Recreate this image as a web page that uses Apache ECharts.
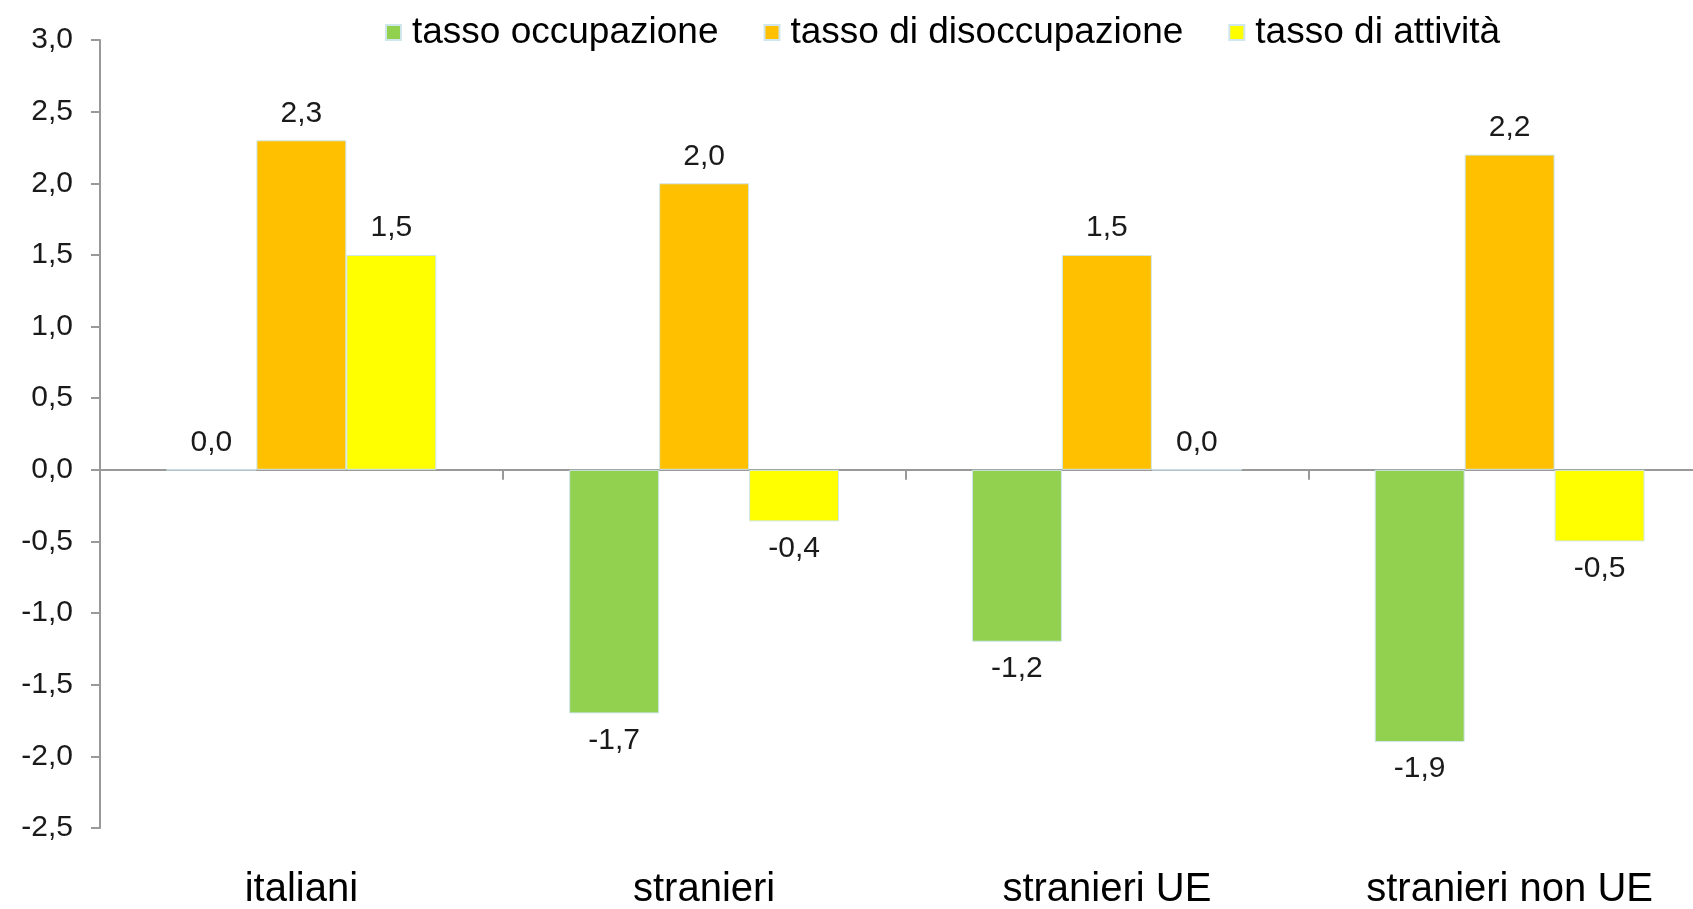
<!DOCTYPE html>
<html>
<head>
<meta charset="utf-8">
<script src="https://cdn.jsdelivr.net/npm/echarts@6/dist/echarts.min.js"></script>
<style>
html,body{margin:0;padding:0;background:#fff;}
#chart{width:1693px;height:909px;}
</style>
</head>
<body>
<div id="chart"></div>
<script>
const categories = ['italiani', 'stranieri', 'stranieri UE', 'stranieri non UE'];
const seriesNames = ['tasso occupazione', 'tasso di disoccupazione', 'tasso di attività'];
const occupazione = [0.0, -1.7, -1.2, -1.9];
const disoccupazione = [2.3, 2.0, 1.5, 2.2];
const attivita = [1.5, -0.36, 0.0, -0.5];
const yTicks = { min: -2.5, max: 3.0, interval: 0.5 };

const colors = ['#92D050', '#FFC000', '#FFFF00'];
const fmt = v => (Math.round(Number(v) * 10) / 10).toFixed(1).replace('.', ',');
const font = '"Liberation Sans", Arial, sans-serif';

function mkSeries(name, values, color) {
  return {
    name: name,
    type: 'bar',
    xAxisIndex: 0,
    barGap: '0%',
    barCategoryGap: '33%',
    itemStyle: { color: color, borderColor: '#cfe6ec', borderWidth: 1 },
    data: values.map(v => ({
      value: v,
      label: { position: v < 0 ? 'bottom' : 'top' }
    })),
    label: {
      show: true,
      distance: 12,
      fontSize: 30,
      fontFamily: font,
      color: '#1a1a1a',
      formatter: p => fmt(p.value)
    }
  };
}

const chart = echarts.init(document.getElementById('chart'));
chart.setOption({
  animation: false,
  backgroundColor: '#fff',
  textStyle: { fontFamily: font },
  legend: {
    data: seriesNames,
    left: 380,
    top: 9,
    itemWidth: 15,
    itemHeight: 15,
    itemGap: 45,
    icon: 'rect',
    textStyle: { fontSize: 37, color: '#000', fontFamily: font, padding: [0, 0, 0, 6] }
  },
  grid: { left: 100, top: 40, width: 1611, bottom: 81, containLabel: false, outerBoundsMode: 'none' },
  xAxis: [
    {
      type: 'category',
      data: categories,
      position: 'bottom',
      axisLine: { onZero: true, lineStyle: { color: '#999', width: 2 } },
      axisTick: { show: true, length: 10, lineStyle: { color: '#999', width: 2 } },
      axisLabel: { show: false },
      splitLine: { show: false }
    },
    {
      type: 'category',
      data: categories,
      position: 'bottom',
      axisLine: { show: false },
      axisTick: { show: false },
      axisLabel: { show: true, fontSize: 40, color: '#000', margin: 42, fontFamily: font }
    }
  ],
  yAxis: {
    type: 'value',
    min: yTicks.min,
    max: yTicks.max,
    interval: yTicks.interval,
    axisLine: { show: true, lineStyle: { color: '#999', width: 2 } },
    axisTick: { show: true, length: 9, lineStyle: { color: '#999', width: 2 } },
    axisLabel: { fontSize: 30, color: '#1a1a1a', margin: 27, formatter: v => fmt(v), fontFamily: font },
    splitLine: { show: false }
  },
  series: [
    mkSeries(seriesNames[0], occupazione, colors[0]),
    mkSeries(seriesNames[1], disoccupazione, colors[1]),
    mkSeries(seriesNames[2], attivita, colors[2])
  ]
});
</script>
</body>
</html>
